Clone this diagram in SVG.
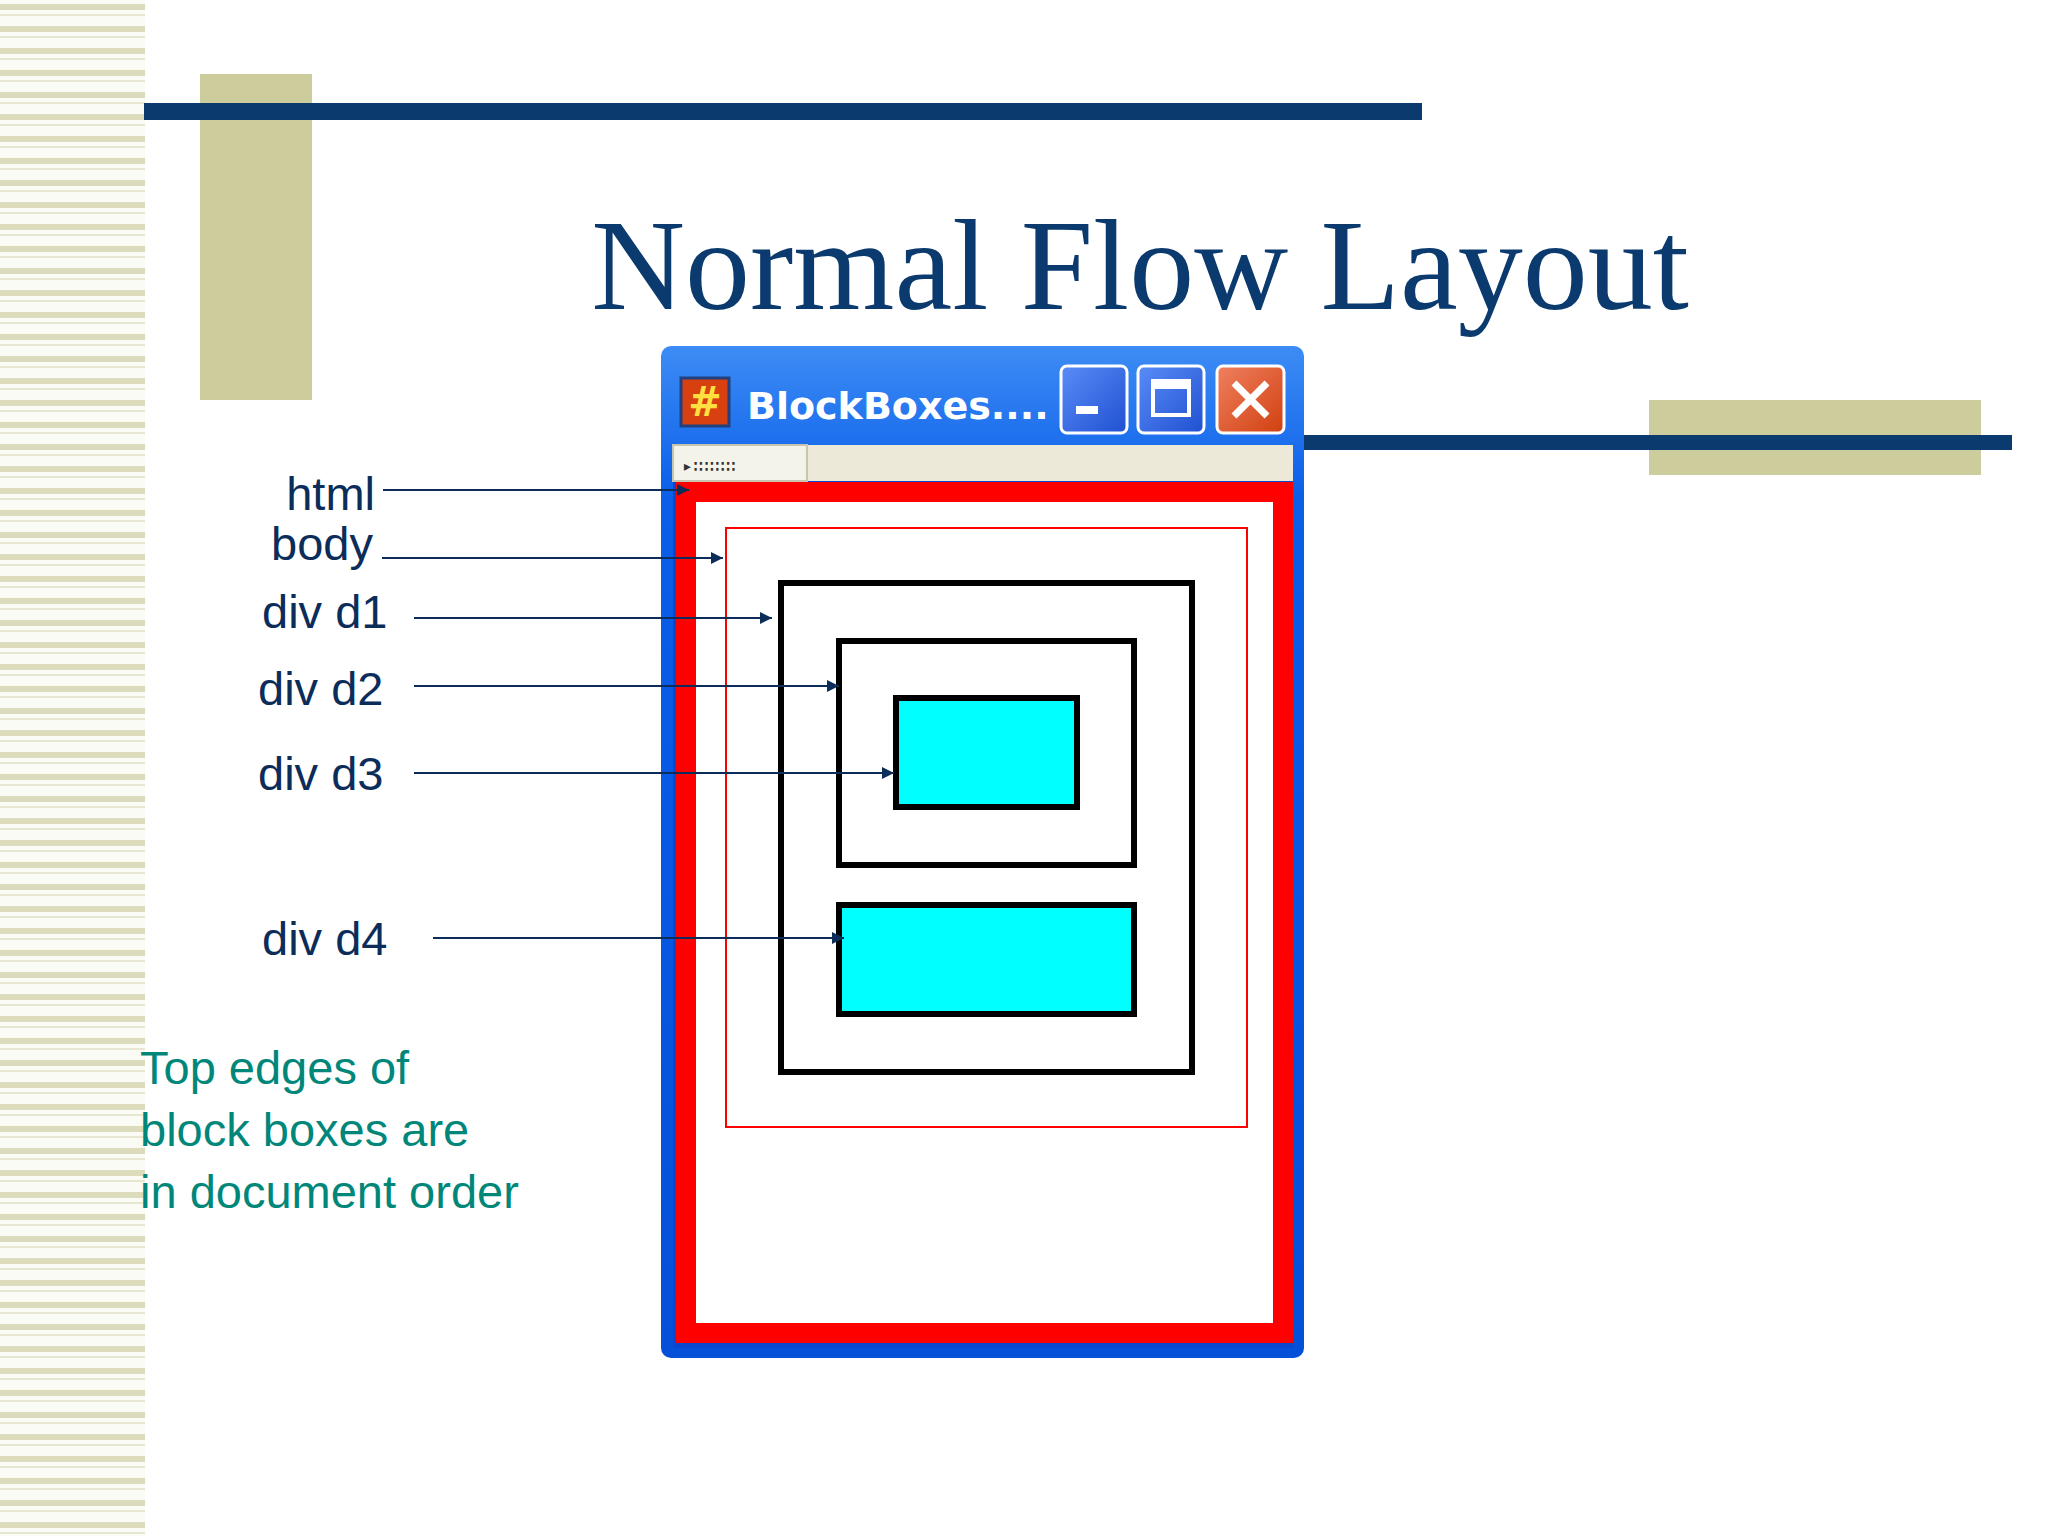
<svg xmlns="http://www.w3.org/2000/svg" width="2048" height="1536" viewBox="0 0 2048 1536">
<defs>
<pattern id="stripes" width="145" height="22" patternUnits="userSpaceOnUse">
<rect width="145" height="22" fill="#fbfbf6"/>
<rect y="4" width="145" height="6" fill="#dcdcbc"/>
<rect y="14" width="145" height="2" fill="#e8e8d2"/>
</pattern>
<linearGradient id="tb" x1="0" y1="0" x2="0" y2="1">
<stop offset="0" stop-color="#3d8cf5"/><stop offset="0.15" stop-color="#0a5ee8"/><stop offset="1" stop-color="#0550d8"/>
</linearGradient>
<linearGradient id="btn" x1="0" y1="0" x2="1" y2="1">
<stop offset="0" stop-color="#5a8cf8"/><stop offset="1" stop-color="#2050d0"/>
</linearGradient>
<linearGradient id="cls" x1="0" y1="0" x2="1" y2="1">
<stop offset="0" stop-color="#f08060"/><stop offset="1" stop-color="#d04010"/>
</linearGradient>
<marker id="ah" viewBox="0 0 10 10" refX="10" refY="5" markerWidth="12" markerHeight="12" markerUnits="userSpaceOnUse" orient="auto">
<path d="M0,0 L10,5 L0,10 z" fill="#0c2d5a"/>
</marker>
<style>
.lbl{font-family:"Liberation Sans",Arial,sans-serif;font-size:47px;fill:#0c2d5a}
.note{font-family:"Liberation Sans",Arial,sans-serif;font-size:47px;fill:#00877a}
.con{stroke:#0c2d5a;stroke-width:2;fill:none;marker-end:url(#ah)}
.box{fill:none;stroke:#000;stroke-width:6}
</style>
</defs>
<rect width="2048" height="1536" fill="#fff"/>
<rect x="0" y="0" width="145" height="1536" fill="url(#stripes)"/>
<rect x="200" y="74" width="112" height="326" fill="#cdcc9c"/>
<rect x="144" y="103" width="1278" height="17" fill="#0b3a6e"/>
<rect x="1649" y="400" width="332" height="75" fill="#cdcc9c"/>
<rect x="1304" y="435" width="708" height="15" fill="#0b3a6e"/>
<text x="1140" y="309" text-anchor="middle" font-family="Liberation Serif,'Times New Roman',serif" font-size="130" fill="#0b3a6e">Normal Flow Layout</text>
<g id="window">
<rect x="661" y="346" width="643" height="1012" rx="10" fill="url(#tb)"/>
<rect x="673" y="445" width="620" height="903" fill="#0a46d0"/>
<rect x="673" y="445" width="620" height="36" fill="#ece9d8"/>
<rect x="673" y="445" width="134" height="36" fill="#f4f3ea" stroke="#c8c4b0" stroke-width="2"/>
<text x="682" y="472" font-family="DejaVu Sans Mono,monospace" font-size="18" fill="#333">▸∷∷∷∷</text>
<rect x="681" y="378" width="48" height="48" fill="#d84010" stroke="#204080" stroke-width="3"/>
<text x="705" y="416" text-anchor="middle" font-family="DejaVu Sans,sans-serif" font-size="40" font-weight="bold" fill="#ffe040">#</text>
<text x="747" y="419" font-family="DejaVu Sans,Verdana,sans-serif" font-size="38" font-weight="bold" fill="#fff">BlockBoxes....</text>
<rect x="1061" y="366" width="66" height="67" rx="6" fill="url(#btn)" stroke="#fff" stroke-width="3"/>
<rect x="1076" y="406" width="22" height="8" fill="#fff"/>
<rect x="1138" y="366" width="66" height="67" rx="6" fill="url(#btn)" stroke="#fff" stroke-width="3"/>
<rect x="1153" y="381" width="36" height="34" fill="none" stroke="#fff" stroke-width="4"/>
<rect x="1153" y="381" width="36" height="8" fill="#fff"/>
<rect x="1217" y="366" width="67" height="67" rx="6" fill="url(#cls)" stroke="#fff" stroke-width="3"/>
<path d="M1234,383 L1267,416 M1267,383 L1234,416" stroke="#fff" stroke-width="7"/>
</g>
<g id="html"><rect x="686" y="492" width="597" height="841" fill="#fff" stroke="#f00" stroke-width="20"/></g>
<g id="body"><rect x="726" y="528" width="521" height="599" fill="none" stroke="#f00" stroke-width="2"/></g>
<g id="d1"><rect class="box" x="781" y="583" width="411" height="489"/></g>
<g id="d2"><rect class="box" x="839" y="641" width="295" height="224"/></g>
<g id="d3"><rect class="box" x="896" y="698" width="181" height="109" fill="#0ff" style="fill:#00ffff"/></g>
<g id="d4"><rect class="box" x="839" y="905" width="295" height="109" style="fill:#00ffff"/></g>
<g id="labels">
<text class="lbl" x="375" y="510" text-anchor="end">html</text>
<text class="lbl" x="373" y="560" text-anchor="end">body</text>
<text class="lbl" x="262" y="628">div d1</text>
<text class="lbl" x="258" y="705">div d2</text>
<text class="lbl" x="258" y="790">div d3</text>
<text class="lbl" x="262" y="955">div d4</text>
<text class="note" x="140" y="1084">Top edges of</text>
<text class="note" x="140" y="1146">block boxes are</text>
<text class="note" x="140" y="1208">in document order</text>
</g>
<g id="connectors">
<line class="con" x1="383" y1="490" x2="689" y2="490"/>
<line class="con" x1="382" y1="558" x2="723" y2="558"/>
<line class="con" x1="414" y1="618" x2="772" y2="618"/>
<line class="con" x1="414" y1="686" x2="839" y2="686"/>
<line class="con" x1="414" y1="773" x2="894" y2="773"/>
<line class="con" x1="433" y1="938" x2="844" y2="938"/>
</g>
</svg>
